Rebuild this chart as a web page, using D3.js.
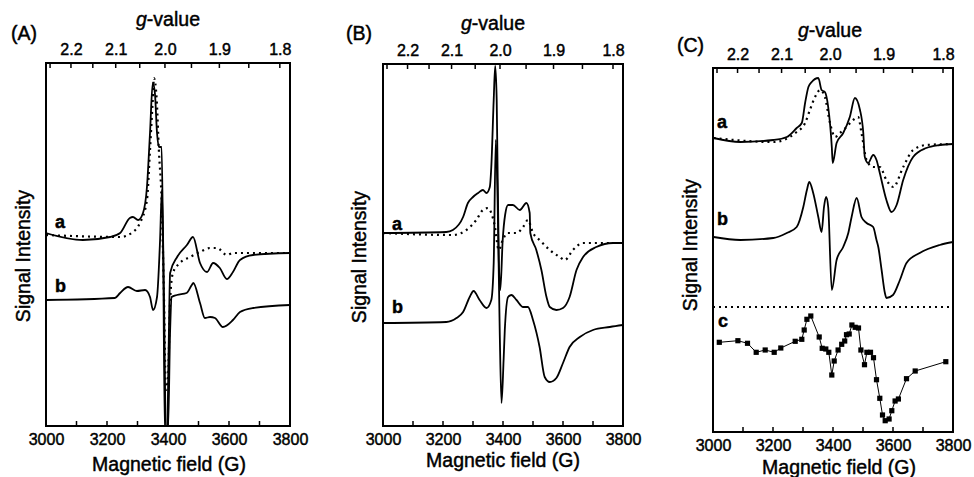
<!DOCTYPE html>
<html><head><meta charset="utf-8">
<script src="https://cdn.jsdelivr.net/npm/d3@7"></script>
<style>
html,body{margin:0;padding:0;background:#fff;}
svg{display:block;font-family:"Liberation Sans",Arial,Helvetica,sans-serif;}
svg text{stroke:#000;stroke-width:0.45px;fill:#000;}
</style></head>
<body><svg id="chart" width="974" height="477"></svg>
<script>
// ---------------- DATA ----------------
const fieldTicks = [3000, 3200, 3400, 3600, 3800];
const fieldMinor = [3100, 3300, 3500, 3700];
const gMajor = [2.2, 2.1, 2.0, 1.9, 1.8];
const gMinor = [2.25, 2.15, 2.05, 1.95, 1.85];
const gConst = 6780; // field (G) = gConst / g
const traceLabels = ["a", "b", "c"];

// Panel A  [field (G), intensity (a.u.)]
const A_a_solid = [[3000,193],[3121,186],[3210,189],[3243,193],[3275,208],[3285,209],[3302,206],[3318,213],[3331,239],[3341,293],[3350,343],[3357,333],[3364,293],[3370,279],[3379,279],[3384,176],[3390,-10],[3397,-10],[3402,76],[3407,153],[3430,169],[3462,181],[3482,189],[3505,163],[3528,154],[3548,163],[3570,158],[3593,147],[3613,154],[3636,166],[3679,171],[3800,173]];
const A_a_dotted = [[3000,191],[3243,189],[3285,194],[3308,203],[3331,226],[3341,276],[3350,326],[3354,348],[3363,326],[3370,276],[3379,226],[3387,126],[3393,36],[3400,46],[3407,126],[3416,153],[3439,163],[3472,169],[3505,174],[3538,178],[3561,178],[3593,171],[3613,173],[3659,173],[3800,173]];
const A_b_solid = [[3000,126],[3226,128],[3243,133],[3269,139],[3298,135],[3325,136],[3341,129],[3351,116],[3364,129],[3374,186],[3380,236],[3387,126],[3393,-4],[3400,-4],[3407,96],[3412,129],[3429,131],[3461,133],[3478,141],[3483,143],[3505,123],[3521,108],[3538,109],[3554,108],[3580,99],[3613,106],[3636,114],[3679,118],[3800,121]];

// Panel B
const B_a_solid = [[3000,193],[3211,194],[3233,196],[3267,209],[3283,223],[3300,229],[3317,233],[3333,236],[3345,233],[3356,239],[3361,259],[3369,326],[3374,360],[3379,326],[3386,166],[3391,136],[3399,186],[3407,211],[3417,221],[3433,221],[3456,216],[3478,223],[3489,213],[3491,193],[3511,176],[3528,156],[3545,129],[3556,119],[3578,116],[3600,118],[3622,129],[3645,156],[3667,169],[3711,179],[3767,183],[3800,183]];
const B_a_dotted = [[3000,193],[3232,191],[3278,196],[3311,206],[3333,216],[3350,218],[3361,213],[3372,201],[3386,176],[3399,186],[3416,193],[3445,193],[3467,199],[3483,206],[3500,193],[3522,186],[3556,176],[3589,169],[3606,166],[3633,176],[3667,183],[3711,183],[3800,183]];
const B_b_solid = [[3000,103],[3211,104],[3245,108],[3267,114],[3289,129],[3302,135],[3322,126],[3345,118],[3361,126],[3369,163],[3376,286],[3382,226],[3389,96],[3395,23],[3402,66],[3406,96],[3417,129],[3428,131],[3445,126],[3467,119],[3483,119],[3500,106],[3522,79],[3539,49],[3556,44],[3578,48],[3600,63],[3622,79],[3656,89],[3700,96],[3756,99],[3800,101]];

// Panel C
const C_a_solid = [[3002,294],[3091,290],[3201,292],[3246,295],[3279,304],[3296,309],[3307,329],[3318,345],[3329,350],[3351,354],[3362,342],[3373,340],[3384,325],[3396,285],[3399,269],[3412,289],[3434,299],[3456,315],[3473,334],[3490,322],[3501,299],[3506,275],[3517,269],[3534,277],[3545,272],[3556,259],[3578,232],[3595,220],[3612,227],[3634,252],[3667,275],[3711,284],[3756,287],[3800,288]];
const C_a_dotted = [[3002,294],[3201,290],[3279,300],[3307,309],[3323,322],[3340,335],[3357,342],[3373,335],[3390,309],[3407,295],[3423,299],[3445,305],[3467,312],[3484,315],[3495,299],[3512,272],[3534,265],[3556,265],[3578,252],[3601,245],[3634,265],[3667,282],[3711,287],[3800,288]];
const C_b_solid = [[3002,195],[3091,192],[3201,194],[3246,199],[3279,205],[3301,225],[3313,242],[3321,250],[3334,239],[3351,215],[3362,200],[3370,225],[3377,235],[3384,225],[3396,142],[3412,172],[3434,185],[3451,199],[3462,215],[3479,234],[3495,215],[3512,209],[3534,205],[3545,192],[3551,185],[3562,162],[3573,139],[3578,134],[3600,137],[3623,152],[3645,169],[3689,179],[3756,187],[3800,190]];
const C_c_points = [[3021,89.7],[3083,91.3],[3115,88.7],[3144,79.7],[3174,82],[3204,79.7],[3226,84],[3274,90.7],[3296,92.7],[3304,102],[3313,112.7],[3326,116],[3354,95],[3364,83.7],[3376,83],[3386,79.7],[3396,57],[3404,71],[3417,82],[3429,87.7],[3439,91],[3445,97.3],[3454,98],[3463,107],[3474,104.7],[3485,104],[3493,82],[3505,67.3],[3513,79.7],[3525,79.7],[3535,74.3],[3545,52.3],[3556,33.7],[3565,17],[3574,11.3],[3587,13],[3596,21.3],[3607,31],[3618,33],[3645,53.3],[3674,61],[3776,70.3]];
const C_divider = 125;

// ---------------- LAYOUT ----------------
const panels = [
  {tag:"(A)", tagX:11, tagY:40, x0:46, x1:290, y0:63, y1:426, yMax:363,
   gvX:168, gvY:26, sigX:30, sigY:256, magX:169, magY:471,
   solid:[A_a_solid, A_b_solid], dotted:[A_a_dotted],
   labels:[[55,228],[55,292]]},
  {tag:"(B)", tagX:346, tagY:40, x0:383, x1:623, y0:64, y1:426, yMax:362,
   gvX:493, gvY:30, sigX:366, sigY:257, magX:503, magY:467,
   solid:[B_a_solid, B_b_solid], dotted:[B_a_dotted],
   labels:[[392,230],[392,313]]},
  {tag:"(C)", tagX:677, tagY:52, x0:713, x1:953, y0:68, y1:432, yMax:364,
   gvX:830, gvY:37, sigX:697, sigY:245, magX:839, magY:474,
   solid:[C_a_solid, C_b_solid], dotted:[C_a_dotted], points:C_c_points,
   divider:C_divider,
   labels:[[717,128],[717,225],[718,327]]}
];

const svg = d3.select("#chart");
const FONT = 19.5, TICKF = 16;

panels.forEach((p, i) => {
  const x = d3.scaleLinear().domain([3000, 3800]).range([p.x0, p.x1]);
  const y = d3.scaleLinear().domain([0, p.yMax]).range([p.y1, p.y0]);
  const g = svg.append("g");
  const cid = "clip" + i;
  svg.append("defs").append("clipPath").attr("id", cid)
    .append("rect").attr("x", p.x0).attr("y", p.y0).attr("width", p.x1 - p.x0).attr("height", p.y1 - p.y0);

  const plot = g.append("g").attr("clip-path", `url(#${cid})`);
  const line = d3.line().x(d => x(d[0])).y(d => y(d[1])).curve(d3.curveMonotoneX);
  const poly = d3.line().x(d => x(d[0])).y(d => y(d[1]));

  p.dotted.forEach(arr => plot.append("path").datum(arr).attr("d", line)
    .attr("fill", "none").attr("stroke", "#000").attr("stroke-width", 2.2)
    .attr("stroke-dasharray", "2,4"));
  p.solid.forEach(arr => plot.append("path").datum(arr).attr("d", line)
    .attr("fill", "none").attr("stroke", "#000").attr("stroke-width", 1.8)
    .attr("stroke-linejoin", "round"));

  if (p.divider !== undefined) {
    plot.append("line").attr("x1", p.x0).attr("x2", p.x1)
      .attr("y1", y(p.divider)).attr("y2", y(p.divider))
      .attr("stroke", "#000").attr("stroke-width", 2.2).attr("stroke-dasharray", "2,4");
  }
  if (p.points) {
    plot.append("path").datum(p.points).attr("d", poly)
      .attr("fill", "none").attr("stroke", "#000").attr("stroke-width", 1);
    plot.selectAll("rect.pt").data(p.points).join("rect").attr("class", "pt")
      .attr("x", d => x(d[0]) - 2.6).attr("y", d => y(d[1]) - 2.6)
      .attr("width", 5.2).attr("height", 5.2).attr("fill", "#000");
  }

  // bottom axis
  const bottom = d3.axisBottom(x).tickValues(fieldTicks).tickSize(0).tickPadding(0)
    .tickFormat(d3.format("d"));
  const bAx = g.append("g").attr("transform", `translate(0,${p.y1})`).call(bottom);
  bAx.select(".domain").remove();
  bAx.selectAll("text").attr("dy", null).attr("y", 19).attr("font-size", TICKF)
    .attr("font-family", "Liberation Sans, Arial, sans-serif").attr("fill", "#000");
  g.selectAll("line.bt").data(fieldTicks.concat(fieldMinor)).join("line").attr("class", "bt")
    .attr("x1", d => x(d)).attr("x2", d => x(d)).attr("y1", p.y1).attr("y2", p.y1 - 5)
    .attr("stroke", "#000").attr("stroke-width", 1.5);

  // top g-value axis
  const gx = v => x(gConst / v);
  const top = d3.axisTop(x)
    .tickValues(gMajor.map(v => gConst / v)).tickSize(0).tickPadding(0)
    .tickFormat((d, k) => d3.format(".1f")(gMajor[k]));
  const tAx = g.append("g").attr("transform", `translate(0,${p.y0})`).call(top);
  tAx.select(".domain").remove();
  tAx.selectAll("text").attr("y", -8).attr("dy", null).attr("font-size", TICKF)
    .attr("font-family", "Liberation Sans, Arial, sans-serif").attr("fill", "#000");
  g.selectAll("line.tt").data(gMajor.concat(gMinor)).join("line").attr("class", "tt")
    .attr("x1", d => gx(d)).attr("x2", d => gx(d)).attr("y1", p.y0).attr("y2", p.y0 + 5)
    .attr("stroke", "#000").attr("stroke-width", 1.5);

  // frame
  g.append("rect").attr("x", p.x0).attr("y", p.y0).attr("width", p.x1 - p.x0)
    .attr("height", p.y1 - p.y0).attr("fill", "none").attr("stroke", "#000").attr("stroke-width", 2);

  // texts
  g.append("text").attr("x", p.tagX).attr("y", p.tagY).attr("font-size", FONT).text(p.tag);
  const gv = g.append("text").attr("x", p.gvX).attr("y", p.gvY).attr("font-size", FONT)
    .attr("text-anchor", "middle");
  gv.append("tspan").attr("font-style", "italic").text("g");
  gv.append("tspan").text("-value");
  g.append("text").attr("transform", `translate(${p.sigX},${p.sigY}) rotate(-90)`)
    .attr("text-anchor", "middle").attr("font-size", FONT).text("Signal Intensity");
  g.append("text").attr("x", p.magX).attr("y", p.magY).attr("text-anchor", "middle")
    .attr("font-size", FONT).text("Magnetic field (G)");
  p.labels.forEach((l, k) => g.append("text").attr("x", l[0]).attr("y", l[1])
    .attr("font-size", 18).attr("font-weight", "bold").text(traceLabels[k]));
});
</script></body></html>
